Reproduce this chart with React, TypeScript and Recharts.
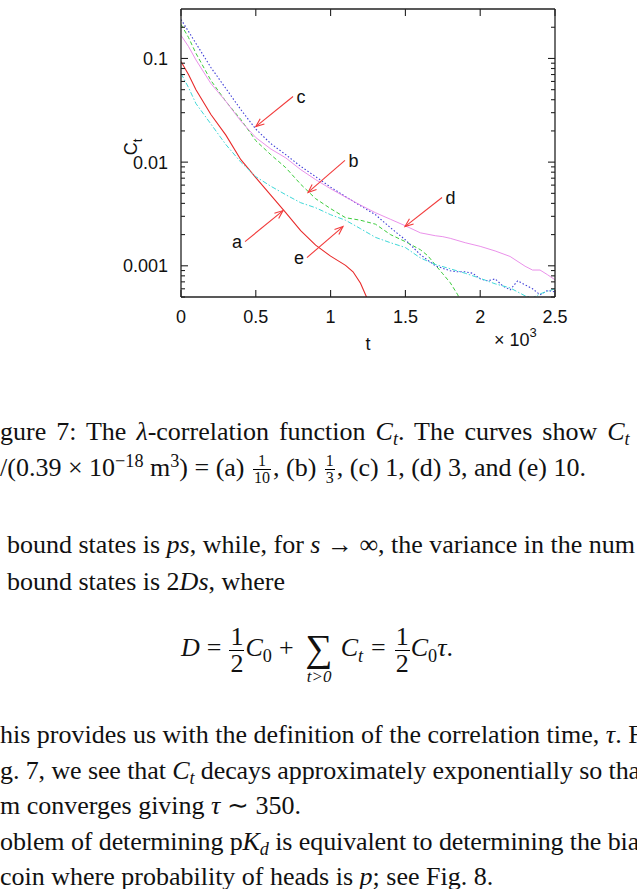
import React from 'react';
import { LineChart, Line, XAxis, YAxis, ReferenceLine } from 'recharts';

// ---------- axis definitions ----------
const xDomain = [0, 2500];
const xTicks = [0, 500, 1000, 1500, 2000, 2500];
const xTickLabels = ['0', '0.5', '1', '1.5', '2', '2.5'];
const yDomain = [0.0005, 0.3];
const yMajorTicks = [0.001, 0.01, 0.1];
const yTickLabels = ['0.001', '0.01', '0.1'];
const yMinorTicks = [
  0.0005, 0.0006, 0.0007, 0.0008, 0.0009,
  0.002, 0.003, 0.004, 0.005, 0.006, 0.007, 0.008, 0.009,
  0.02, 0.03, 0.04, 0.05, 0.06, 0.07, 0.08, 0.09,
  0.2,
];

// ---------- series (t, C_t) ----------
// (a) red solid
const tA = [0, 50, 100, 200, 300, 400, 500, 600, 700, 800, 900, 1000, 1100, 1150, 1200, 1240, 1260];
const cA = [0.0935, 0.07, 0.05, 0.0288, 0.0182, 0.01055, 0.0071, 0.0048, 0.00326, 0.00218, 0.00158, 0.00124, 0.00101, 0.000875, 0.00068, 0.0005, 0.00042];
// (b) green dashed
const tB = [0, 50, 100, 200, 300, 400, 500, 600, 700, 800, 900, 1000, 1100, 1200, 1300, 1400, 1500, 1600, 1650, 1700, 1750, 1800, 1850, 1870];
const cB = [0.213, 0.1596, 0.112, 0.0613, 0.0385, 0.0258, 0.0161, 0.0118, 0.00885, 0.00612, 0.00444, 0.00356, 0.00291, 0.00275, 0.00252, 0.002, 0.00171, 0.00143, 0.00125, 0.00102, 0.000837, 0.000686, 0.000525, 0.00045];
// (c) blue dotted
const tC = [0, 50, 100, 200, 300, 400, 500, 600, 700, 800, 900, 1000, 1100, 1200, 1300, 1400, 1500, 1600, 1700, 1800, 1850, 1900, 1950, 2000, 2050, 2100, 2150, 2200, 2250, 2300, 2350, 2400, 2450, 2500];
const cC = [0.238, 0.1824, 0.1396, 0.0818, 0.0513, 0.0321, 0.0208, 0.0151, 0.0118, 0.0091, 0.00724, 0.00574, 0.00465, 0.00379, 0.00311, 0.00233, 0.00178, 0.00128, 0.001, 0.000895, 0.000875, 0.000875, 0.000847, 0.000748, 0.000716, 0.000748, 0.000641, 0.000586, 0.000716, 0.000655, 0.0006, 0.000525, 0.000578, 0.000561];
// (d) magenta
const tD = [0, 50, 100, 200, 300, 400, 500, 600, 700, 800, 900, 1000, 1100, 1200, 1300, 1400, 1500, 1600, 1700, 1750, 1800, 1900, 2000, 2100, 2200, 2300, 2350, 2400, 2450, 2500];
const cD = [0.167, 0.1306, 0.0968, 0.0573, 0.0385, 0.0249, 0.01726, 0.0134, 0.011, 0.00847, 0.00678, 0.00554, 0.0046, 0.00385, 0.00325, 0.00281, 0.00243, 0.00208, 0.00195, 0.00191, 0.00184, 0.00167, 0.00154, 0.00139, 0.00123, 0.00099, 0.00091, 0.00091, 0.00082, 0.000733];
// (e) cyan dash-dot
const tE = [0, 50, 100, 200, 300, 400, 500, 600, 700, 800, 900, 1000, 1100, 1200, 1300, 1400, 1500, 1600, 1700, 1800, 1900, 2000, 2100, 2200, 2300, 2350, 2400, 2450, 2500];
const cE = [0.0716, 0.0525, 0.0367, 0.0233, 0.01476, 0.01, 0.00724, 0.00586, 0.00485, 0.00406, 0.00363, 0.00311, 0.00275, 0.00228, 0.00188, 0.00167, 0.0015, 0.00119, 0.00103, 0.000935, 0.000847, 0.000757, 0.00067, 0.000612, 0.000513, 0.00049, 0.000536, 0.000568, 0.0006];

// ---------- annotation arrows ----------
const arrowLabels = ['a', 'b', 'c', 'd', 'e'];
const arrowSide = ['left', 'right', 'right', 'right', 'left'];
const arrowTailT = [428, 1096, 749, 1745, 842];
const arrowTailC = [0.00171, 0.0104, 0.043, 0.00456, 0.0012];
const arrowTipT = [682, 849, 500, 1497, 1083];
const arrowTipC = [0.00341, 0.0051, 0.022, 0.00239, 0.00239];

const seriesStyle = [
  { name: 'a', t: tA, c: cA, color: '#e82a2a', dash: undefined, width: 1.1 },
  { name: 'b', t: tB, c: cB, color: '#3ccc3c', dash: '4 2.5', width: 1 },
  { name: 'c', t: tC, c: cC, color: '#4040d8', dash: '1.5 2', width: 1.1 },
  { name: 'd', t: tD, c: cD, color: '#e884e8', dash: undefined, width: 0.9 },
  { name: 'e', t: tE, c: cE, color: '#3fd8d8', dash: '5 2 1.5 2', width: 1 },
];

const AXIS = '#222';
const SANS = '"Liberation Sans", Arial, Helvetica, sans-serif';
const SERIF = '"Liberation Serif", "Times New Roman", serif';
const FS = 18;

const near = (a: number, b: number) => Math.abs(a - b) < b * 1e-6;

const LeftTick = (props: any) => {
  const { x, y, payload } = props;
  const v = payload.value;
  const idx = yMajorTicks.findIndex((m) => near(v, m));
  const len = idx >= 0 ? 7 : 4;
  return (
    <g>
      <line x1={x} y1={y} x2={x + len} y2={y} stroke={AXIS} strokeWidth={1.1} />
      {idx >= 0 && (
        <text x={x - 13} y={y + 6.5} textAnchor="end" fontFamily={SANS} fontSize={FS} fill="#111">
          {yTickLabels[idx]}
        </text>
      )}
    </g>
  );
};

const RightTick = (props: any) => {
  const { x, y, payload } = props;
  const v = payload.value;
  const major = yMajorTicks.some((m) => near(v, m));
  const len = major ? 7 : 4;
  return <line x1={x} y1={y} x2={x - len} y2={y} stroke={AXIS} strokeWidth={1.1} />;
};

const BottomTick = (props: any) => {
  const { x, y, payload } = props;
  const idx = xTicks.indexOf(payload.value);
  return (
    <g>
      <line x1={x} y1={y} x2={x} y2={y - 7} stroke={AXIS} strokeWidth={1.1} />
      <text x={x} y={y + 26} textAnchor="middle" fontFamily={SANS} fontSize={FS} fill="#111">
        {xTickLabels[idx]}
      </text>
    </g>
  );
};

const TopTick = (props: any) => {
  const { x, y } = props;
  return <line x1={x} y1={y} x2={x} y2={y + 7} stroke={AXIS} strokeWidth={1.1} />;
};

const makeArrowShape = (label: string, side: string) => (p: any) => {
  const { x1, y1, x2, y2 } = p;
  if (![x1, y1, x2, y2].every((v) => typeof v === 'number' && isFinite(v))) return <g />;
  const ang = Math.atan2(y2 - y1, x2 - x1);
  const hl = 9;
  const ha = 0.38;
  const ax = x2 - hl * Math.cos(ang - ha);
  const ay = y2 - hl * Math.sin(ang - ha);
  const bx = x2 - hl * Math.cos(ang + ha);
  const by = y2 - hl * Math.sin(ang + ha);
  const col = '#f23b3b';
  return (
    <g>
      <line x1={x1} y1={y1} x2={x2} y2={y2} stroke={col} strokeWidth={1.1} />
      <polyline points={`${ax},${ay} ${x2},${y2} ${bx},${by}`} fill="none" stroke={col} strokeWidth={1.1} />
      <text
        x={side === 'left' ? x1 - 3 : x1 + 3.5}
        y={y1 + 6.5}
        textAnchor={side === 'left' ? 'end' : 'start'}
        fontFamily={SANS}
        fontSize={FS}
        fill="#111"
      >
        {label}
      </text>
    </g>
  );
};

const Chart = () => {
  const yTicksAll = [...yMinorTicks, ...yMajorTicks].sort((a, b) => a - b);
  return (
    <LineChart width={637} height={360} margin={{ top: 4, right: 62, left: 111, bottom: 23 }}>
      <XAxis
        xAxisId="b"
        dataKey="t"
        type="number"
        domain={xDomain}
        ticks={xTicks}
        interval={0}
        allowDataOverflow
        height={40}
        tickSize={0}
        tickMargin={0}
        tickLine={false}
        axisLine={{ stroke: AXIS, strokeWidth: 1.3 }}
        tick={<BottomTick />}
      />
      <XAxis
        xAxisId="top"
        orientation="top"
        dataKey="t"
        type="number"
        domain={xDomain}
        ticks={xTicks}
        interval={0}
        allowDataOverflow
        height={5}
        tickSize={0}
        tickMargin={0}
        tickLine={false}
        axisLine={{ stroke: AXIS, strokeWidth: 1.3 }}
        tick={<TopTick />}
      />
      <YAxis
        yAxisId="l"
        type="number"
        scale="log"
        domain={yDomain}
        ticks={yTicksAll}
        interval={0}
        allowDataOverflow
        width={70}
        tickSize={0}
        tickMargin={0}
        tickLine={false}
        axisLine={{ stroke: AXIS, strokeWidth: 1.3 }}
        tick={<LeftTick />}
      />
      <YAxis
        yAxisId="r"
        orientation="right"
        type="number"
        scale="log"
        domain={yDomain}
        ticks={yTicksAll}
        interval={0}
        allowDataOverflow
        width={20}
        tickSize={0}
        tickMargin={0}
        tickLine={false}
        axisLine={{ stroke: AXIS, strokeWidth: 1.3 }}
        tick={<RightTick />}
      />
      {seriesStyle.map((s) => (
        <Line
          key={s.name}
          xAxisId="b"
          yAxisId="l"
          data={s.t.map((t, i) => ({ t, C: s.c[i] }))}
          dataKey="C"
          type="linear"
          stroke={s.color}
          strokeWidth={s.width}
          strokeDasharray={s.dash}
          dot={false}
          activeDot={false}
          isAnimationActive={false}
        />
      ))}
      {arrowLabels.map((lab, i) => (
        <ReferenceLine
          key={'arr' + lab}
          xAxisId="b"
          yAxisId="l"
          segment={[
            { x: arrowTailT[i], y: arrowTailC[i] },
            { x: arrowTipT[i], y: arrowTipC[i] },
          ]}
          ifOverflow="visible"
          shape={makeArrowShape(lab, arrowSide[i])}
        />
      ))}
    </LineChart>
  );
};

// ---------- text helpers ----------
const Sub = ({ children }: any) => (
  <span style={{ fontSize: '0.7em', verticalAlign: '-0.28em', lineHeight: 0 }}>{children}</span>
);
const Sup = ({ children }: any) => (
  <span style={{ fontSize: '0.7em', verticalAlign: '0.5em', lineHeight: 0 }}>{children}</span>
);
const Frac = ({ n, d, size, m = 2 }: any) => (
  <span
    style={{
      display: 'inline-flex',
      flexDirection: 'column',
      alignItems: 'center',
      verticalAlign: 'middle',
      fontSize: size,
      lineHeight: 1,
      margin: `0 ${m}px`,
    }}
  >
    <span style={{ padding: '0 1px' }}>{n}</span>
    <span style={{ borderTop: '1px solid #000', padding: '0 1px' }}>{d}</span>
  </span>
);
const Op = ({ children, w = 6 }: any) => <span style={{ margin: `0 ${w}px` }}>{children}</span>;

const FONT = 26;
const TL = ({ baseline, left = 0, children, style }: any) => (
  <div
    style={{
      position: 'absolute',
      top: baseline - 24.3,
      left,
      whiteSpace: 'nowrap',
      fontFamily: SERIF,
      fontSize: FONT,
      lineHeight: '31px',
      color: '#111',
      ...style,
    }}
  >
    {children}
  </div>
);

export default function App() {
  return (
    <div
      style={{
        position: 'absolute',
        left: 0,
        top: 0,
        width: 637,
        height: 889,
        overflow: 'hidden',
        background: '#fff',
      }}
    >
      <div style={{ position: 'absolute', left: 0, top: 0 }}>
        <Chart />
      </div>
      <svg
        width={637}
        height={360}
        style={{ position: 'absolute', left: 0, top: 0, pointerEvents: 'none' }}
      >
        <text
          x={137}
          y={147}
          transform="rotate(-90 137 147)"
          textAnchor="middle"
          fontFamily={SANS}
          fontSize={FS}
          fill="#111"
        >
          C<tspan dy={5} fontSize={13}>t</tspan>
        </text>
        <text x={368} y={350} textAnchor="middle" fontFamily={SANS} fontSize={FS} fill="#111">
          t
        </text>
        <text x={494} y={346} fontFamily={SANS} fontSize={FS} fill="#111">
          × 10<tspan dy={-9} fontSize={13}>3</tspan>
        </text>
      </svg>

      <TL baseline={440} style={{ wordSpacing: 3.5 }}>
        gure 7: The <i>λ</i>-correlation function <i>C</i>
        <Sub><i>t</i></Sub>. The curves show <i>C</i>
        <Sub><i>t</i></Sub>
      </TL>
      <TL baseline={476}>
        /(0.39 × 10<Sup>−18</Sup> m<Sup>3</Sup>) = (a) <Frac n="1" d="10" size={16} />, (b){' '}
        <Frac n="1" d="3" size={16} />, (c) 1, (d) 3, and (e) 10.
      </TL>
      <TL baseline={553} left={7}>
        bound states is <i>ps</i>, while, for <i>s</i> → ∞, the variance in the num
      </TL>
      <TL baseline={590} left={7}>
        bound states is 2<i>Ds</i>, where
      </TL>
      <TL baseline={648} left={181}>
        <i>D</i>
        <Op w={7}>=</Op>
        <Frac n="1" d="2" size={26} m={1} />
        <i>C</i>
        <Sub>0</Sub>
        <Op w={7}>+</Op>
        <span style={{ position: 'relative', display: 'inline-block', margin: '0 5px' }}>
          <span style={{ fontSize: 38, lineHeight: 0, verticalAlign: '-0.13em' }}>∑</span>
          <span
            style={{
              position: 'absolute',
              left: '50%',
              top: 36,
              transform: 'translateX(-50%)',
              fontSize: 17,
              lineHeight: 1,
              fontStyle: 'italic',
            }}
          >
            t&gt;0
          </span>
        </span>
        <i style={{ marginLeft: 3 }}>C</i>
        <Sub><i>t</i></Sub>
        <Op w={8}>=</Op>
        <Frac n="1" d="2" size={26} m={1} />
        <i>C</i>
        <Sub>0</Sub>
        <i>τ</i>.
      </TL>
      <TL baseline={743}>
        his provides us with the definition of the correlation time, <i>τ</i>. F
      </TL>
      <TL baseline={779} style={{ letterSpacing: -0.1 }}>
        g. 7, we see that <i>C</i>
        <Sub><i>t</i></Sub> decays approximately exponentially so that
      </TL>
      <TL baseline={814}>
        m converges giving <i>τ</i> ∼ 350.
      </TL>
      <TL baseline={850} style={{ letterSpacing: -0.1 }}>
        oblem of determining p<i>K</i>
        <Sub><i>d</i></Sub> is equivalent to determining the bia
      </TL>
      <TL baseline={885}>
        coin where probability of heads is <i>p</i>; see Fig. 8.
      </TL>
    </div>
  );
}
